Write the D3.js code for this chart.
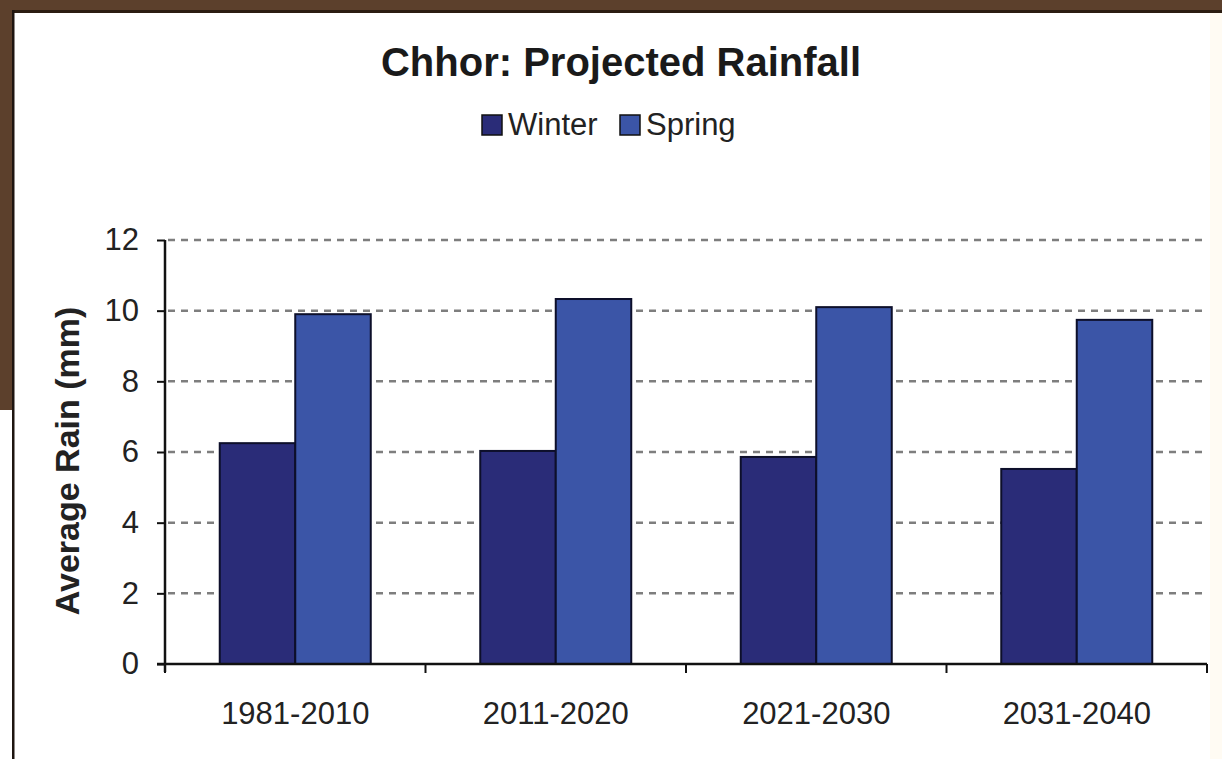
<!DOCTYPE html>
<html>
<head>
<meta charset="utf-8">
<script src="https://cdn.jsdelivr.net/npm/d3@7"></script>
<style>
  html, body { margin: 0; padding: 0; background: #fff; }
  svg { display: block; }
</style>
</head>
<body>
<script>
var categories = ["1981-2010", "2011-2020", "2021-2030", "2031-2040"];
var seriesNames = ["Winter", "Spring"];
var winter = [6.25, 6.03, 5.86, 5.52];
var spring = [9.9, 10.33, 10.1, 9.74];
var yTicks = [0, 2, 4, 6, 8, 10, 12];
var colors = { Winter: "#2a2c78", Spring: "#3b55a7" };

var width = 1222, height = 759;
var svg = d3.select("body").append("svg")
    .attr("width", width)
    .attr("height", height);

// frame: brown band top and left, dark edge line
svg.append("rect").attr("x", 0).attr("y", 0).attr("width", width).attr("height", 11).attr("fill", "#5c402c");
svg.append("rect").attr("x", 0).attr("y", 0).attr("width", 12).attr("height", 410).attr("fill", "#5c402c");
svg.append("rect").attr("x", 12).attr("y", 10).attr("width", width - 12).attr("height", 3).attr("fill", "#2b1d12");
svg.append("rect").attr("x", 12).attr("y", 10).attr("width", 2.5).attr("height", height - 10).attr("fill", "#1e1510");
svg.append("rect").attr("x", 1210).attr("y", 13).attr("width", 12).attr("height", height - 13).attr("fill", "#fffbf3");

var plotLeft = 165, plotRight = 1207, plotTop = 240, plotBottom = 664;

var x = d3.scaleBand().domain(categories).range([plotLeft, plotRight]).padding(0);
var x1 = d3.scaleBand().domain(seriesNames).range([0, x.bandwidth()]).paddingInner(0).paddingOuter(0.725);
var y = d3.scaleLinear().domain([0, 12]).range([plotBottom, plotTop]);

// gridlines
svg.append("g").selectAll("line")
    .data(yTicks.filter(function(d) { return d > 0; }))
    .enter().append("line")
    .attr("x1", plotLeft + 3).attr("x2", plotRight)
    .attr("y1", function(d) { return y(d); })
    .attr("y2", function(d) { return y(d); })
    .attr("stroke", "#7e7e7e")
    .attr("stroke-width", 2.5)
    .attr("stroke-dasharray", "7,6");

// bars
var rows = categories.map(function(c, i) {
  return { cat: c, values: [{ key: "Winter", v: winter[i] }, { key: "Spring", v: spring[i] }] };
});
svg.append("g").selectAll("g")
    .data(rows)
    .enter().append("g")
    .attr("transform", function(d) { return "translate(" + x(d.cat) + ",0)"; })
    .selectAll("rect")
    .data(function(d) { return d.values; })
    .enter().append("rect")
    .attr("x", function(d) { return x1(d.key); })
    .attr("width", x1.bandwidth())
    .attr("y", function(d) { return y(d.v); })
    .attr("height", function(d) { return plotBottom - y(d.v); })
    .attr("fill", function(d) { return colors[d.key]; })
    .attr("stroke", "#0d0f2a")
    .attr("stroke-width", 2);

// y axis
var yAxis = svg.append("g")
    .attr("transform", "translate(" + plotLeft + ",0)")
    .call(d3.axisLeft(y).tickValues(yTicks).tickSize(8).tickPadding(18).tickFormat(d3.format("d")));
yAxis.select(".domain").attr("stroke", "#111").attr("stroke-width", 2.5)
    .attr("d", "M0," + plotTop + "V" + (plotBottom + 8));
yAxis.selectAll(".tick line").attr("stroke", "#111").attr("stroke-width", 2);
yAxis.selectAll(".tick text")
    .attr("font-family", "Liberation Sans, Arial, sans-serif")
    .attr("font-size", 31)
    .attr("fill", "#222");

// x axis
svg.append("line")
    .attr("x1", plotLeft - 8).attr("x2", plotRight)
    .attr("y1", plotBottom).attr("y2", plotBottom)
    .attr("stroke", "#111").attr("stroke-width", 2.5);
svg.append("g").selectAll("line")
    .data(d3.range(categories.length + 1))
    .enter().append("line")
    .attr("x1", function(i) { return plotLeft + i * x.step(); })
    .attr("x2", function(i) { return plotLeft + i * x.step(); })
    .attr("y1", plotBottom).attr("y2", plotBottom + 9)
    .attr("stroke", "#111").attr("stroke-width", 2);
svg.append("g").selectAll("text")
    .data(categories)
    .enter().append("text")
    .attr("x", function(d) { return x(d) + x.bandwidth() / 2; })
    .attr("y", 724)
    .attr("text-anchor", "middle")
    .attr("font-family", "Liberation Sans, Arial, sans-serif")
    .attr("font-size", 31)
    .attr("fill", "#222")
    .text(function(d) { return d; });

// y label
svg.append("text")
    .attr("transform", "translate(79,461) rotate(-90)")
    .attr("text-anchor", "middle")
    .attr("font-family", "Liberation Sans, Arial, sans-serif")
    .attr("font-weight", "bold")
    .attr("font-size", 34)
    .attr("fill", "#222")
    .text("Average Rain (mm)");

// title
svg.append("text")
    .attr("x", 621).attr("y", 76)
    .attr("text-anchor", "middle")
    .attr("font-family", "Liberation Sans, Arial, sans-serif")
    .attr("font-weight", "bold")
    .attr("font-size", 40)
    .attr("fill", "#1a1a1a")
    .text("Chhor: Projected Rainfall");

// legend
var legendPos = { Winter: 482, Spring: 620 };
var legend = svg.append("g").selectAll("g")
    .data(seriesNames)
    .enter().append("g")
    .attr("transform", function(d) { return "translate(" + legendPos[d] + ",115)"; });
legend.append("rect")
    .attr("width", 20).attr("height", 20)
    .attr("fill", function(d) { return colors[d]; })
    .attr("stroke", "#111").attr("stroke-width", 1.5);
legend.append("text")
    .attr("x", 26).attr("y", 20)
    .attr("font-family", "Liberation Sans, Arial, sans-serif")
    .attr("font-size", 31)
    .attr("fill", "#222")
    .text(function(d) { return d; });
</script>
</body>
</html>
